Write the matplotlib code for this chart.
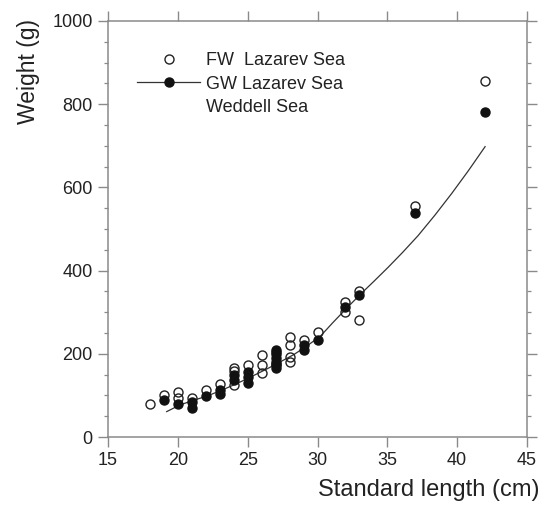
import matplotlib
matplotlib.use("Agg")
import matplotlib.pyplot as plt
from matplotlib.lines import Line2D
from matplotlib.ticker import MultipleLocator

plt.rcParams['font.family'] = ['Liberation Sans', 'DejaVu Sans']

# Fresh weight (open circles), Lazarev Sea
fw_len = [18, 19, 20, 20, 21, 22, 23, 24, 24, 24, 25, 26, 26, 26, 27, 27,
          28, 28, 28, 28, 29, 30, 32, 32, 33, 33, 37, 42]
fw_wt = [80, 100, 109, 93, 93, 113, 127, 166, 158, 125, 173, 197, 173, 153, 205, 175,
         241, 221, 193, 181, 232, 252, 324, 301, 350, 282, 555, 855]

# Gutted weight (filled circles), Lazarev Sea
gw_len = [19, 20, 21, 21, 22, 23, 23, 24, 24, 25, 25, 25, 27, 27, 27, 27, 27, 27,
          29, 29, 30, 32, 33, 37, 42]
gw_wt = [88, 79, 85, 70, 99, 113, 103, 148, 137, 157, 145, 130, 210, 200, 190, 180, 172, 166,
         220, 210, 232, 313, 342, 538, 782]

# Length-weight curve
curve_len = [19.2, 20.15, 21.1, 22.06, 23.1, 24.2, 25.2, 26.4, 27.3, 28.3, 29.2, 30.2,
             31.1, 32.1, 33.04, 34.0, 35.06, 36.1, 37.2, 38.4, 39.6, 40.8, 42.0]
curve_wt = [61, 77, 88, 98, 112, 128, 144, 164, 180, 198, 218, 242,
            275, 310, 342, 373, 408, 444, 484, 533, 585, 640, 698]

x_ticks = [15, 20, 25, 30, 35, 40, 45]
y_ticks = [0, 200, 400, 600, 800, 1000]
legend_labels = ['FW  Lazarev Sea', 'GW Lazarev Sea', 'Weddell Sea']

fig = plt.figure(figsize=(5.48, 5.18), dpi=100)
ax = fig.add_axes([108 / 548, 1 - 437 / 518, 419 / 548, 416 / 518])

ax.plot(curve_len, curve_wt, color='#333333', lw=0.9, zorder=2)
ax.plot(fw_len, fw_wt, 'o', ms=6.5, mfc='none', mec='#222222', mew=1.0, zorder=3)
ax.plot(gw_len, gw_wt, 'o', ms=6.5, mfc='#111111', mec='#111111', mew=1.0, zorder=4)

ax.set_xlim(15, 45)
ax.set_ylim(0, 1000)
ax.set_xticks(x_ticks)
ax.set_yticks(y_ticks)
ax.yaxis.set_minor_locator(MultipleLocator(50))

spine_col = '#8a8a8a'
for s in ax.spines.values():
    s.set_color(spine_col)
    s.set_linewidth(1.1)

ax.tick_params(axis='both', which='major', direction='out', length=7, width=1.0,
               color=spine_col, labelsize=13, labelcolor='#222222', pad=4,
               top=True, right=True, labeltop=False, labelright=False)
ax.tick_params(axis='y', which='minor', direction='out', length=3, width=0.9,
               color=spine_col, left=True, right=True)

fig.text(0.985, 1 - 490 / 518, 'Standard length (cm)', ha='right', va='center',
         fontsize=17, color='#222222')
fig.text(28 / 548, 1 - 72 / 518, 'Weight (g)', ha='center', va='center',
         rotation=90, fontsize=16.5, color='#222222')

handles = [
    Line2D([], [], ls='none', marker='o', ms=6.5, mfc='none', mec='#222222', mew=1.0),
    Line2D([], [], ls='-', color='#333333', lw=0.9, marker='o', ms=6.5,
           mfc='#111111', mec='#111111'),
    Line2D([], [], ls='none', marker=None),
]
ax.legend(handles, legend_labels, loc='upper left', bbox_to_anchor=(0.069, 0.925),
          frameon=False, fontsize=13, borderpad=0, borderaxespad=0,
          handlelength=3.5, handletextpad=0.3, labelspacing=0.35,
          labelcolor='#222222')

fig.savefig('out.png', dpi=100, facecolor='white')
